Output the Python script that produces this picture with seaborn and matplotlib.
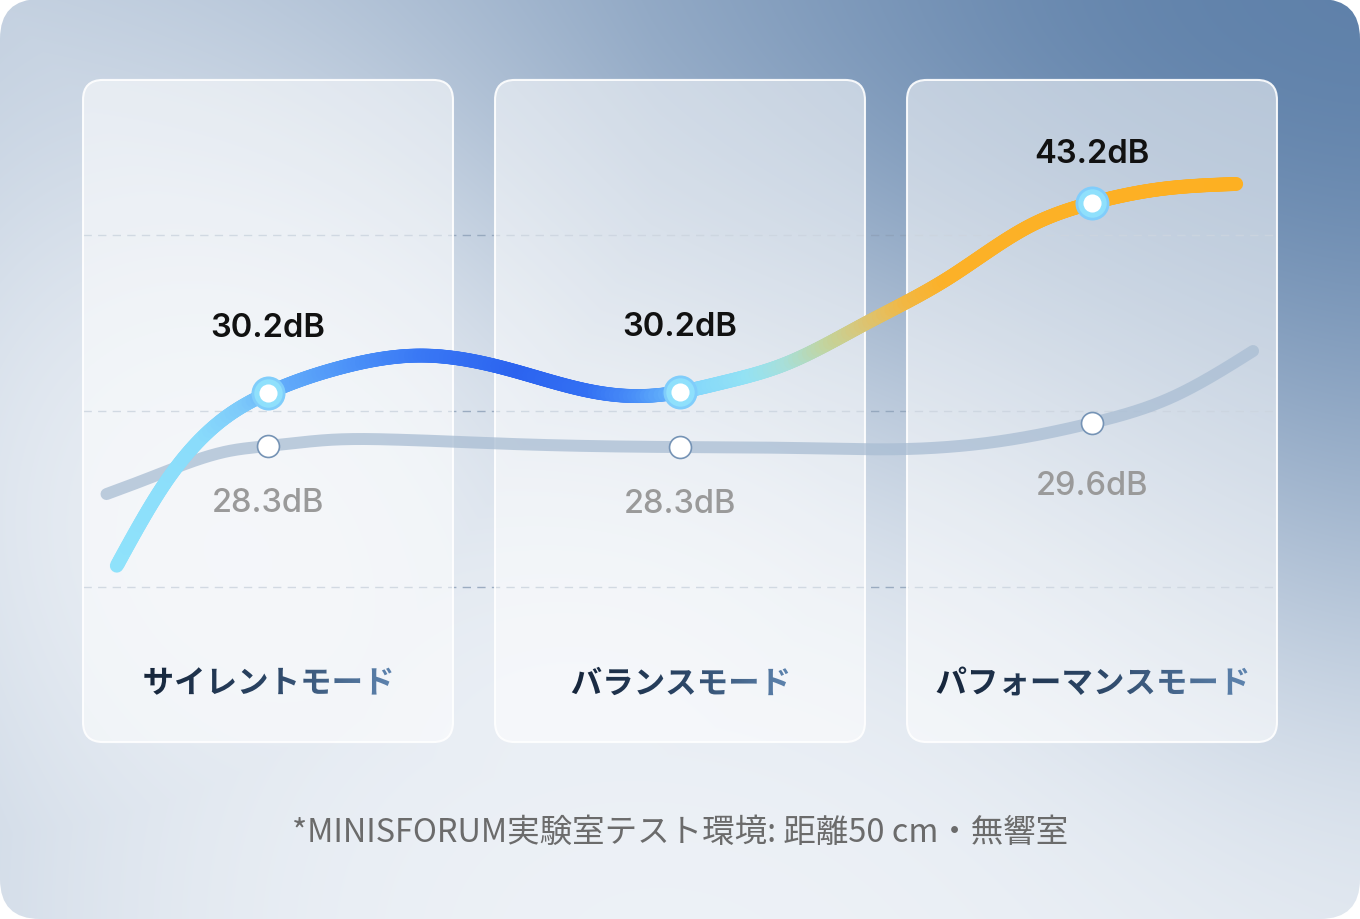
import numpy as np
import pandas as pd
import matplotlib
matplotlib.use('Agg')
import matplotlib.pyplot as plt
import seaborn as sns
from matplotlib.collections import LineCollection
from matplotlib.colors import LinearSegmentedColormap
from matplotlib.patches import FancyBboxPatch
from matplotlib.textpath import TextPath
from matplotlib.font_manager import FontProperties
from matplotlib.transforms import Affine2D, IdentityTransform

# ---- data -------------------------------------------------------------
modes = ['サイレントモード', 'バランスモード', 'パフォーマンスモード']
cat_pos = [0, 1, 2]
new_db = [30.2, 30.2, 43.2]          # highlighted (new) model
old_db = [28.3, 28.3, 29.6]          # comparison model
# drawn height of each marker on the chart (gridlines sit at levels 1, 2, 3)
new_level = [2.10, 2.11, 3.18]
old_level = [1.80, 1.795, 1.93]
# points
new_curve_x = [-0.367, -0.254, -0.108, 0.0, 0.17, 0.37, 0.59, 0.80, 0.92, 1.0,
               1.10, 1.25, 1.45, 1.65, 1.85, 2.0, 2.17, 2.35]
new_curve_y = [1.121, 1.576, 1.955, 2.102, 2.243, 2.315, 2.233, 2.105, 2.086, 2.108,
               2.160, 2.262, 2.497, 2.753, 3.053, 3.182, 3.262, 3.290]
old_curve_x = [-0.392, -0.294, -0.189, -0.092, 0.0, 0.15, 0.30, 0.60, 1.0, 1.30,
               1.55, 1.77, 2.0, 2.19, 2.391]
old_curve_y = [1.528, 1.614, 1.709, 1.774, 1.801, 1.836, 1.838, 1.812, 1.795, 1.789,
               1.784, 1.826, 1.932, 2.074, 2.341]
grid_levels = [1, 2, 3]
note = '*MINISFORUM実験室テスト環境: 距離50 cm・無響室'

# ---- style ------------------------------------------------------------
sns.set_theme(style='white')
plt.rcParams['font.family'] = ['Noto Sans CJK JP', 'DejaVu Sans']

W, H, DPI = 1360, 920, 100
XLIM = (-0.6505, 2.6505)
YLIM = (-0.8864, 4.3409)
PX_X = 412.0   # pixels per category step
PX_Y = 176.0   # pixels per level step

fig = plt.figure(figsize=(W / DPI, H / DPI), dpi=DPI, facecolor='white')
ax = fig.add_axes([0, 0, 1, 1])
ax.set_axis_off()
ax.set_xlim(XLIM)
ax.set_ylim(YLIM)


def smooth(xs, ys, n=800):
    # natural cubic spline through the read points
    xs = np.asarray(xs, float)
    ys = np.asarray(ys, float)
    k = len(xs)
    h = np.diff(xs)
    A = np.zeros((k, k))
    r = np.zeros(k)
    A[0, 0] = A[-1, -1] = 1
    for i in range(1, k - 1):
        A[i, i - 1] = h[i - 1]
        A[i, i] = 2 * (h[i - 1] + h[i])
        A[i, i + 1] = h[i]
        r[i] = 6 * ((ys[i + 1] - ys[i]) / h[i] - (ys[i] - ys[i - 1]) / h[i - 1])
    M = np.linalg.solve(A, r)
    xx = np.linspace(xs[0], xs[-1], n)
    j = np.clip(np.searchsorted(xs, xx) - 1, 0, k - 2)
    hj = h[j]
    a = xs[j + 1] - xx
    b = xx - xs[j]
    yy = (M[j] * a**3 + M[j + 1] * b**3) / (6 * hj) \
        + (ys[j] / hj - M[j] * hj / 6) * a + (ys[j + 1] / hj - M[j + 1] * hj / 6) * b
    return xx, yy


# ---- background -------------------------------------------------------
gy, gx = np.mgrid[0:H, 0:W].astype(float)
light = np.array([238, 242, 247]) / 255
dark = np.array([95, 129, 170]) / 255


def blob(cx, cy, s):
    return np.exp(-((gx - cx) ** 2 + (gy - cy) ** 2) / (2 * s ** 2))


w1 = np.exp(-(((W - gx) / 950) ** 2 + (gy / 480) ** 2))
w3 = 0.35 * np.exp(-((W - gx) / 300) ** 2) * np.exp(-(gy / 700) ** 4)
glow = np.maximum.reduce([blob(280, 460, 240), blob(620, 680, 250), blob(700, 880, 360)])
edge = np.maximum(np.exp(-gx / 260), np.exp(-gy / 320))
w2 = (0.07 + 0.15 * edge) * (1 - glow)
wt = (1 - (1 - w1) * (1 - w2) * (1 - w3)) * (1 - 0.55 * glow)
rgb = light * (1 - wt[..., None]) + dark * wt[..., None]
bg = ax.imshow(rgb, extent=(*XLIM, *YLIM), origin='upper', aspect='auto',
               interpolation='bilinear', zorder=0)
frame = FancyBboxPatch((XLIM[0], YLIM[0]), XLIM[1] - XLIM[0], YLIM[1] - YLIM[0],
                       boxstyle='round,pad=0,rounding_size=%f' % (40 / PX_X),
                       mutation_aspect=PX_X / PX_Y, facecolor='none', edgecolor='none')
ax.add_patch(frame)
bg.set_clip_path(frame)

# ---- gridlines and panels ---------------------------------------------
ax.hlines(grid_levels, -0.449, 2.449, colors='#8fa2b9', linewidth=1.0,
          linestyles=(0, (6, 4.5)), alpha=0.85, zorder=1)
for p in cat_pos:
    ax.add_patch(FancyBboxPatch((p - 0.449, 0.119), 0.898, 3.762,
                                boxstyle='round,pad=0,rounding_size=%f' % (20 / PX_X),
                                mutation_aspect=PX_X / PX_Y,
                                facecolor=(1, 1, 1, 0.55), edgecolor=(1, 1, 1, 0.9),
                                linewidth=1.5, zorder=2))

# ---- comparison curve -------------------------------------------------
ox, oy = smooth(old_curve_x, old_curve_y)
old_df = pd.DataFrame({'x': ox, 'y': oy})
sns.lineplot(data=old_df, x='x', y='y', sort=False, estimator=None, ax=ax,
             color='#a9bdd3', alpha=0.75, linewidth=8.6, solid_capstyle='round',
             zorder=3, legend=False)
sns.scatterplot(x=cat_pos, y=old_level, s=250, color='white', edgecolor='#7593b5',
                linewidth=1.2, zorder=4, ax=ax, legend=False)

# ---- highlighted gradient curve ---------------------------------------
grad_cmap = LinearSegmentedColormap.from_list('line', [
    (0.0, '#8fe2fb'), (0.074, '#8adcfb'), (0.115, '#7cc8fa'), (0.15, '#62acfa'),
    (0.208, '#4d93f8'), (0.271, '#3a79f5'), (0.36, '#2b63ef'), (0.423, '#3370f3'),
    (0.467, '#4a90f8'), (0.494, '#62b0fb'), (0.521, '#85d8fb'), (0.566, '#93e2f4'),
    (0.602, '#a8dfd8'), (0.637, '#c2d49f'), (0.673, '#dcc472'), (0.709, '#f2b743'),
    (0.744, '#fcb128'), (1.0, '#fdb022')])
nx, ny = smooth(new_curve_x, new_curve_y)
pts = np.column_stack([nx, ny])
segs = np.stack([pts[:-1], pts[1:]], axis=1)
frac = (nx[:-1] - nx[0]) / (nx[-1] - nx[0])
lc = LineCollection(segs, colors=grad_cmap(frac), linewidths=10, capstyle='round',
                    joinstyle='round', zorder=5)
ax.add_collection(lc)
sns.scatterplot(x=cat_pos, y=new_level, s=600, color='#80cdfb', linewidth=0,
                zorder=6, ax=ax, legend=False)
sns.scatterplot(x=cat_pos, y=new_level, s=420, color='#8fe0fc', linewidth=0,
                zorder=6, ax=ax, legend=False)
sns.scatterplot(x=cat_pos, y=new_level, s=170, color='white', linewidth=0,
                zorder=7, ax=ax, legend=False)

# ---- value labels -----------------------------------------------------
num_font = ['Inter', 'DejaVu Sans']
new_lift = [41, 41, 30]
old_drop = [47, 47, 51]
for p, v, lv, dy in zip(cat_pos, new_db, new_level, new_lift):
    ax.annotate(f'{v}dB', (p, lv), xytext=(0, dy), textcoords='offset points',
                ha='center', va='baseline', fontsize=23.5, fontweight='semibold',
                color='#111111', family=num_font, zorder=8)
for p, v, lv, dy in zip(cat_pos, old_db, old_level, old_drop):
    ax.annotate(f'{v}dB', (p, lv), xytext=(0, -dy), textcoords='offset points',
                ha='center', va='baseline', fontsize=23.5, fontweight='medium',
                color='#9a9a9a', family=num_font, zorder=8)

# ---- category labels with a horizontal colour gradient ------------------
label_cmap = LinearSegmentedColormap.from_list('lab', ['#16253a', '#2b4565', '#5f85b0'])
fp = FontProperties(family='Noto Sans CJK JP', weight='bold')
inv = ax.transData.inverted()
for p, name in zip(cat_pos, modes):
    tp = TextPath((0, 0), name, size=31.5, prop=fp)
    ext = tp.get_extents()
    cx, cy = ax.transData.transform((p, 0.466))
    path = Affine2D().translate(cx - (ext.x0 + ext.x1) / 2,
                                cy - (ext.y0 + ext.y1) / 2).transform_path(tp)
    x0, y0 = inv.transform((cx - ext.width / 2 - 2, cy - ext.height / 2 - 2))
    x1, y1 = inv.transform((cx + ext.width / 2 + 2, cy + ext.height / 2 + 2))
    im = ax.imshow(np.linspace(0, 1, 256)[None, :], extent=(x0, x1, y0, y1),
                   cmap=label_cmap, aspect='auto', interpolation='bilinear', zorder=8)
    im.set_clip_path(path, IdentityTransform())

# ---- footnote ---------------------------------------------------------
ax.text(1.0, -0.39, note, ha='center', va='center', fontsize=23.4, color='#6b6b6b',
        family=['Noto Sans CJK JP', 'DejaVu Sans'], zorder=8)

ax.set_xlim(XLIM)
ax.set_ylim(YLIM)
fig.savefig('out.png', dpi=DPI, facecolor='white')
